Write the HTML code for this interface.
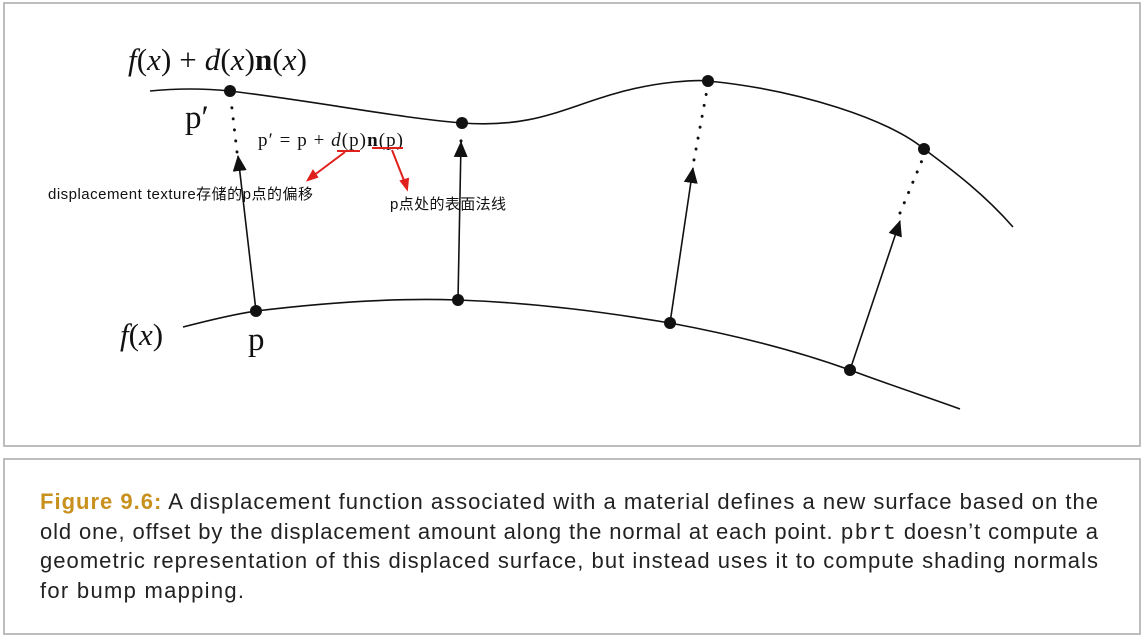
<!DOCTYPE html>
<html><head><meta charset="utf-8"><style>
body{margin:0;width:1146px;height:639px;background:#fff;overflow:hidden;font-family:"Liberation Sans",sans-serif}
.box{position:absolute;border:2px solid #bdbdbd;box-sizing:border-box}
</style></head><body>
<div class="box" style="left:3px;top:2px;width:1138px;height:445px"></div>
<div class="box" style="left:3px;top:458px;width:1138px;height:177px"></div>
<svg width="1146" height="639" style="position:absolute;left:0;top:0">
<defs><marker id="ah" markerWidth="16" markerHeight="14" refX="15" refY="7" orient="auto" markerUnits="userSpaceOnUse"><path d="M0,0 L16,7 L0,14 z" fill="#111"/></marker></defs>
<path d="M150,91 C180,88 210,89 230,91 C320,102 400,118 462,123 C530,128 560,110 610,95 C660,80 700,80 708,81 C800,90 890,120 924,149 C955,172 985,195 1013,227" fill="none" stroke="#111" stroke-width="1.6"/>
<path d="M183,327 C210,320 235,314 256,311 C330,302 400,298 458,300 C540,303 610,313 670,323 C740,336 800,352 850,370 C890,385 930,398 960,409" fill="none" stroke="#111" stroke-width="1.6"/>
<g stroke="#111" stroke-width="1.6" fill="none">
<line x1="256" y1="311" x2="238" y2="156" marker-end="url(#ah)"/>
<line x1="458" y1="300" x2="461" y2="142" marker-end="url(#ah)"/>
<line x1="670" y1="323" x2="693" y2="168" marker-end="url(#ah)"/>
<line x1="850" y1="370" x2="900" y2="221" marker-end="url(#ah)"/>
</g>
<g stroke="#111" stroke-width="3" stroke-dasharray="0.1 11" stroke-linecap="round" fill="none">
<line x1="237" y1="152" x2="231" y2="100"/>
<line x1="461" y1="141" x2="462" y2="130"/>
<line x1="694" y1="160" x2="707" y2="90"/>
<line x1="900" y1="213" x2="923" y2="158"/>
</g>
<g fill="#111">
<circle cx="230" cy="91" r="6"/><circle cx="462" cy="123" r="6"/><circle cx="708" cy="81" r="6"/><circle cx="924" cy="149" r="6"/>
<circle cx="256" cy="311" r="6"/><circle cx="458" cy="300" r="6"/><circle cx="670" cy="323" r="6"/><circle cx="850" cy="370" r="6"/>
</g>
<g font-family="Liberation Serif,serif" fill="#111">
<text x="128" y="70" font-size="31" textLength="179"><tspan font-style="italic">f</tspan>(<tspan font-style="italic">x</tspan>) + <tspan font-style="italic">d</tspan>(<tspan font-style="italic">x</tspan>)<tspan font-weight="bold">n</tspan>(<tspan font-style="italic">x</tspan>)</text>
<text x="185" y="128" font-size="33">p′</text>
<text x="258" y="146" font-size="19" textLength="145">p′ = p + <tspan font-style="italic">d</tspan>(p)<tspan font-weight="bold">n</tspan>(p)</text>
<text x="120" y="345" font-size="31"><tspan font-style="italic">f</tspan>(<tspan font-style="italic">x</tspan>)</text>
<text x="248" y="350" font-size="33">p</text>
</g>
<g stroke="#e0201c" stroke-width="2" fill="#e0201c">
<line x1="337" y1="151" x2="360" y2="151"/><line x1="372" y1="148" x2="403" y2="148"/>
<line x1="345" y1="152" x2="313" y2="176"/><path d="M308,180 L313,171 L317,177 z"/>
<line x1="392" y1="150" x2="405" y2="183"/><path d="M407,189 L401,181 L408,179 z"/>
</g>
<g font-family="Liberation Sans,'Noto Sans CJK SC',sans-serif" font-size="15" fill="#111">
<text x="48" y="199" textLength="265">displacement texture存储的p点的偏移</text>
<text x="390" y="209" textLength="116">p点处的表面法线</text>
</g>
<g font-family="Liberation Sans,sans-serif" font-size="22" fill="#222">
<text x="40" y="509" textLength="1058"><tspan fill="#c8911e" font-weight="bold">Figure 9.6:</tspan> A displacement function associated with a material defines a new surface based on the</text>
<text x="40" y="539" textLength="1058">old one, offset by the displacement amount along the normal at each point. <tspan font-family="Liberation Mono,monospace">pbrt</tspan> doesn’t compute a</text>
<text x="40" y="568" textLength="1058">geometric representation of this displaced surface, but instead uses it to compute shading normals</text>
<text x="40" y="598" textLength="204">for bump mapping.</text>
</g>
</svg>
</body></html>
